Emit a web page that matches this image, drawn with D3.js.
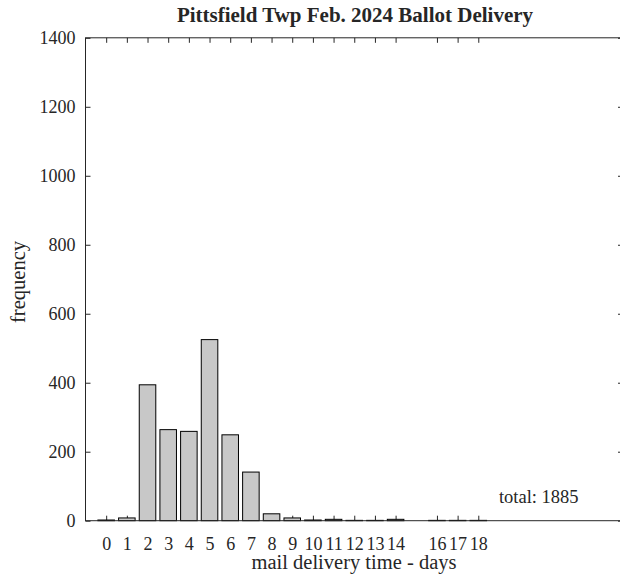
<!DOCTYPE html>
<html>
<head>
<meta charset="utf-8">
<script src="https://cdn.jsdelivr.net/npm/d3@7"></script>
<style>
  body { margin: 0; background: #fff; }
  svg text { font-family: 'Liberation Serif', 'Times New Roman', Times, serif; fill: #262626; }
</style>
</head>
<body>
<div id="chart"></div>
<script>
// delivery time in days, and number of ballots for each
var days = [0, 1, 2, 3, 4, 5, 6, 7, 8, 9, 10, 11, 12, 13, 14, 16, 17, 18];
var counts = [2, 8, 394, 264, 259, 525, 249, 141, 20, 8, 2, 4, 1, 1, 4, 1, 1, 1];
var yTicks = [0, 200, 400, 600, 800, 1000, 1200, 1400];
var title = "Pittsfield Twp Feb. 2024 Ballot Delivery";
var totalLabel = "total: 1885";

var serif = "'Liberation Serif', 'Times New Roman', Times, serif";
var width = 620, height = 580;
var margin = {top: 37.8, right: -3, bottom: 59.3, left: 85.5};
var w = width - margin.left - margin.right,
    h = height - margin.top - margin.bottom;

var svg = d3.select("#chart").append("svg")
    .attr("width", width)
    .attr("height", height)
    .attr("font-family", serif);

var g = svg.append("g")
    .attr("transform", "translate(" + margin.left + "," + margin.top + ")");

var x = d3.scaleLinear().domain([-1, 25]).range([0, w]);
var y = d3.scaleLinear().domain([0, 1400]).range([h, 0]);
var unit = x(1) - x(0);

var axisColor = "#262626";

// ticks first, bars go on top of them
g.append("g")
    .attr("class", "x axis")
    .attr("transform", "translate(0," + h + ")")
    .call(d3.axisBottom(x).tickValues(days).tickSize(-5).tickPadding(17).tickFormat(d3.format("d")));

g.append("g")
    .attr("class", "x axis-top")
    .call(d3.axisTop(x).tickValues(days).tickSize(-5).tickFormat(""));

g.append("g")
    .attr("class", "y axis")
    .call(d3.axisLeft(y).tickValues(yTicks).tickSize(-5).tickPadding(10).tickFormat(d3.format("d")));

g.append("g")
    .attr("class", "y axis-right")
    .attr("transform", "translate(" + w + ",0)")
    .call(d3.axisRight(y).tickValues(yTicks).tickSize(-5).tickFormat(""));

g.selectAll(".axis, .axis-top, .axis-right")
    .attr("font-family", serif)
    .selectAll("path").remove();
g.selectAll(".tick line").attr("stroke", axisColor);
g.selectAll(".tick text")
    .attr("font-family", serif)
    .style("font-family", serif)
    .style("font-size", "18px")
    .attr("fill", axisColor);

g.selectAll(".bar")
    .data(days)
    .enter().append("rect")
    .attr("class", "bar")
    .attr("x", function(d) { return x(d) - unit * 0.4; })
    .attr("width", unit * 0.8)
    .attr("y", function(d, i) { return y(counts[i]); })
    .attr("height", function(d, i) { return h - y(counts[i]); })
    .style("fill", "#c8c8c8")
    .style("stroke", "#000")
    .style("stroke-width", 1);

// axes box
g.append("rect")
    .attr("width", w)
    .attr("height", h)
    .style("fill", "none")
    .style("stroke", axisColor)
    .style("stroke-width", 1);

g.append("text")
    .attr("x", x(19.0))
    .attr("y", y(52))
    .style("font-size", "18.5px")
    .text(totalLabel);

svg.append("text")
    .attr("x", 355)
    .attr("y", 22)
    .style("text-anchor", "middle")
    .style("font-size", "21px")
    .style("font-weight", "bold")
    .text(title);

svg.append("text")
    .attr("x", 354)
    .attr("y", 569)
    .style("text-anchor", "middle")
    .style("font-size", "20.5px")
    .text("mail delivery time - days");

svg.append("text")
    .attr("transform", "rotate(-90)")
    .attr("x", -282)
    .attr("y", 25)
    .style("text-anchor", "middle")
    .style("font-size", "20.5px")
    .text("frequency");
</script>
</body>
</html>
